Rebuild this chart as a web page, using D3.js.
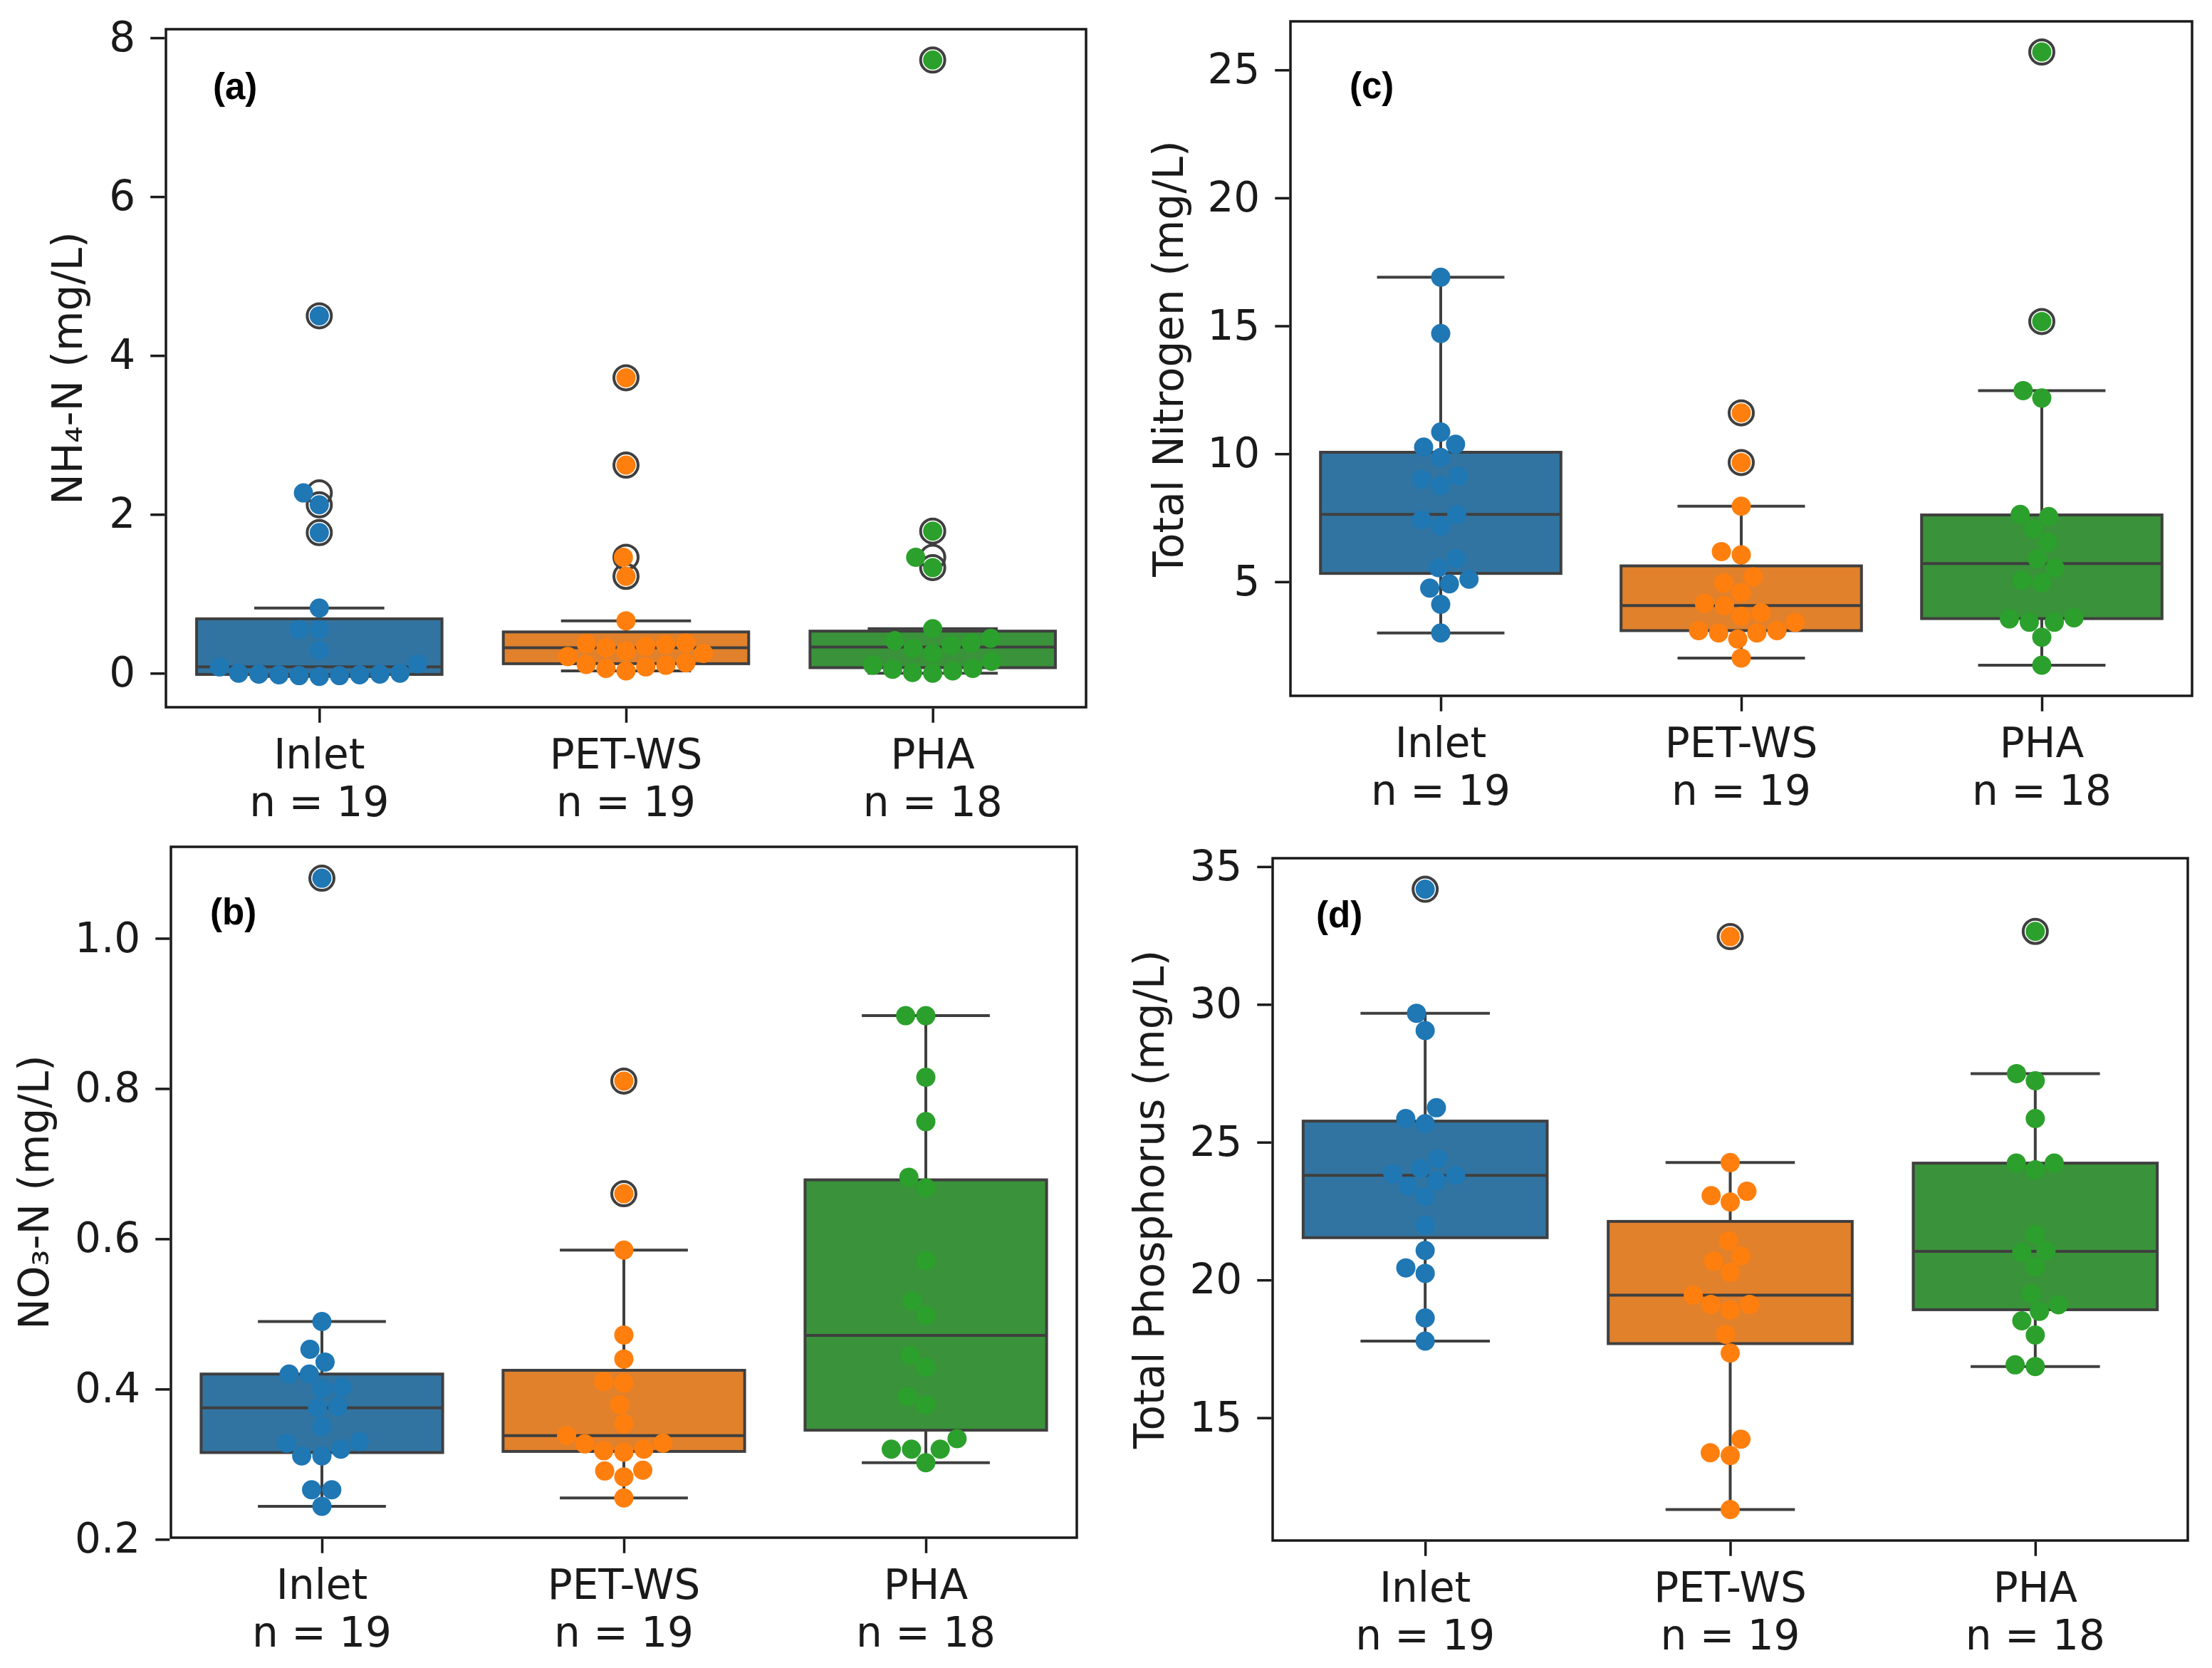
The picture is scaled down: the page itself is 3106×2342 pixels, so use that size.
<!DOCTYPE html>
<html>
<head>
<meta charset="utf-8">
<script src="https://cdn.jsdelivr.net/npm/d3@7"></script>
<style>
  html, body { margin: 0; padding: 0; background: #ffffff; }
  svg { display: block; }
</style>
</head>
<body>
<svg id="chart" width="3106" height="2342"></svg>
<script>
// ---------------- data ----------------
const categories = ["Inlet", "PET-WS", "PHA"];
const sampleSizes = [19, 19, 18];
const boxColors = ["#3274a1", "#e1812c", "#3a923a"];
const pointColors = ["#1f77b4", "#ff7f0e", "#2ca02c"];

// (a) NH4-N (mg/L)
const nh4Inlet = [4.50, 2.27, 2.12, 1.77, 0.82, 0.55, 0.55, 0.29, 0.12, 0.08, 0.00, 0.00, -0.01, -0.01, -0.02, -0.02, -0.03, -0.03, -0.04];
const nh4PetWs = [3.72, 2.62, 1.46, 1.22, 0.66, 0.38, 0.37, 0.36, 0.34, 0.32, 0.28, 0.25, 0.21, 0.13, 0.11, 0.10, 0.08, 0.06, 0.03];
const nh4Pha   = [7.72, 1.79, 1.46, 1.33, 0.56, 0.44, 0.41, 0.38, 0.35, 0.31, 0.25, 0.15, 0.10, 0.06, 0.05, 0.03, 0.01, 0.00];
const nh4Ticks = [0, 2, 4, 6, 8];

// (b) NO3-N (mg/L)
const no3Inlet = [1.08, 0.49, 0.453, 0.436, 0.42, 0.42, 0.402, 0.40, 0.377, 0.375, 0.35, 0.33, 0.328, 0.32, 0.311, 0.311, 0.266, 0.266, 0.244];
const no3PetWs = [0.81, 0.66, 0.585, 0.472, 0.44, 0.41, 0.408, 0.379, 0.354, 0.338, 0.328, 0.327, 0.32, 0.318, 0.316, 0.292, 0.291, 0.283, 0.255];
const no3Pha   = [0.897, 0.897, 0.815, 0.756, 0.682, 0.668, 0.571, 0.517, 0.498, 0.445, 0.429, 0.39, 0.379, 0.334, 0.32, 0.32, 0.32, 0.302];
const no3Ticks = [0.2, 0.4, 0.6, 0.8, 1.0];

// (c) Total Nitrogen (mg/L)
const tnInlet = [16.9, 14.7, 10.85, 10.37, 10.26, 9.86, 9.13, 9.0, 8.75, 7.63, 7.42, 7.17, 5.9, 5.55, 5.1, 4.92, 4.75, 4.12, 3.0];
const tnPetWs = [11.6, 9.66, 7.95, 6.18, 6.05, 5.19, 4.95, 4.58, 4.16, 4.07, 3.79, 3.65, 3.41, 3.09, 3.09, 3.0, 3.0, 2.76, 2.02];
const tnPha   = [25.7, 15.17, 12.47, 12.18, 7.63, 7.55, 7.06, 6.54, 5.9, 5.53, 5.06, 4.96, 3.59, 3.55, 3.42, 3.42, 2.83, 1.74];
const tnTicks = [5, 10, 15, 20, 25];

// (d) Total Phosphorus (mg/L)
const tpInlet = [34.18, 29.68, 29.05, 26.25, 25.86, 25.67, 24.4, 24.04, 23.85, 23.8, 23.6, 23.4, 23.02, 22.0, 21.07, 20.44, 20.24, 18.62, 17.78];
const tpPetWs = [32.46, 24.26, 23.22, 23.06, 22.83, 21.42, 20.87, 20.68, 20.28, 19.45, 19.11, 19.11, 18.91, 18.03, 17.35, 14.22, 13.73, 13.63, 11.67];
const tpPha   = [32.65, 27.49, 27.23, 25.86, 24.24, 24.24, 24.0, 21.65, 21.07, 21.0, 20.48, 19.5, 19.1, 18.86, 18.52, 18.0, 16.92, 16.86];
const tpTicks = [15, 20, 25, 30, 35];

// ---------------- layout ----------------
const panels = [
  { series: [nh4Inlet, nh4PetWs, nh4Pha], ticks: nh4Ticks, fmt: d3.format("d"),
    ylabel: "NH\u2084-N (mg/L)", tag: "(a)",
    frame: { L: 233, R: 1525, T: 41, B: 993 }, ylabelX: 95, tagOff: [66, 80] },
  { series: [tnInlet, tnPetWs, tnPha], ticks: tnTicks, fmt: d3.format("d"),
    ylabel: "Total Nitrogen (mg/L)", tag: "(c)",
    frame: { L: 1812, R: 3078, T: 30, B: 977 }, ylabelX: 1641, tagOff: [83, 90] },
  { series: [no3Inlet, no3PetWs, no3Pha], ticks: no3Ticks, fmt: d3.format(".1f"),
    ylabel: "NO\u2083-N (mg/L)", tag: "(b)",
    frame: { L: 240, R: 1512, T: 1189, B: 2159 }, ylabelX: 48, tagOff: [55, 91] },
  { series: [tpInlet, tpPetWs, tpPha], ticks: tpTicks, fmt: d3.format("d"),
    ylabel: "Total Phosphorus (mg/L)", tag: "(d)",
    frame: { L: 1787, R: 3072, T: 1205, B: 2163 }, ylabelX: 1614, tagOff: [61, 79] }
];

const FONT = "'DejaVu Sans', 'Liberation Sans', sans-serif";
const FS = 58;
const LINE = "#3f3f3f";
const INK = "#1a1a1a";
const DOT_R = 13.5;
const FLIER_R = 17;

const svg = d3.select("#chart");
svg.append("rect").attr("width", 3106).attr("height", 2342).attr("fill", "#ffffff");

function boxStats(values) {
  const s = values.slice().sort(d3.ascending);
  const q1 = d3.quantile(s, 0.25), med = d3.quantile(s, 0.5), q3 = d3.quantile(s, 0.75);
  const iqr = q3 - q1;
  const hiF = q3 + 1.5 * iqr, loF = q1 - 1.5 * iqr;
  const inside = s.filter(v => v >= loF && v <= hiF);
  return { q1, med, q3, wlo: d3.min(inside), whi: d3.max(inside),
           fliers: s.filter(v => v < loF || v > hiF) };
}

// seaborn-like beeswarm placement (pixel space)
function beeswarm(pys, cx, r) {
  const order = pys.map((_, i) => i).sort((a, b) => (pys[b] - pys[a]) || (a - b));
  const placed = [];
  const out = new Array(pys.length);
  for (const i of order) {
    const y = pys[i];
    const neighbors = placed.filter(p => Math.abs(p.y - y) < 2 * r);
    const cands = [cx];
    let leftFirst = true;
    for (const n of neighbors) {
      const dy = y - n.y;
      const dx = Math.sqrt(Math.max(4 * r * r - dy * dy, 0)) * 1.05;
      if (leftFirst) cands.push(n.x - dx, n.x + dx);
      else cands.push(n.x + dx, n.x - dx);
      leftFirst = !leftFirst;
    }
    const sorted = cands.map((x, k) => ({ x, k }))
      .sort((a, b) => (Math.abs(a.x - cx) - Math.abs(b.x - cx)) || (a.k - b.k));
    const chosen = sorted.find(c => neighbors.every(n =>
      (n.x - c.x) ** 2 + (n.y - y) ** 2 >= 4 * r * r - 1e-6)) || sorted[0];
    placed.push({ x: chosen.x, y });
    out[i] = chosen.x;
  }
  return out;
}

panels.forEach(p => {
  const { L, R, T, B } = p.frame;
  const all = p.series.flat();
  const lo = d3.min(all), hi = d3.max(all), pad = 0.05 * (hi - lo);
  const y = d3.scaleLinear().domain([lo - pad, hi + pad]).range([B, T]);
  const x = d3.scalePoint().domain(categories).range([L, R]).padding(0.5);
  const step = x.step();
  const boxW = 0.8 * step;
  const capW = 0.53 * boxW;

  const g = svg.append("g");

  // boxes
  p.series.forEach((vals, i) => {
    const cx = x(categories[i]);
    const st = boxStats(vals);
    const bg = g.append("g");
    bg.append("line").attr("x1", cx).attr("x2", cx).attr("y1", y(st.q3)).attr("y2", y(st.whi))
      .attr("stroke", LINE).attr("stroke-width", 4);
    bg.append("line").attr("x1", cx).attr("x2", cx).attr("y1", y(st.q1)).attr("y2", y(st.wlo))
      .attr("stroke", LINE).attr("stroke-width", 4);
    [st.whi, st.wlo].forEach(v => {
      bg.append("line").attr("x1", cx - capW / 2).attr("x2", cx + capW / 2)
        .attr("y1", y(v)).attr("y2", y(v)).attr("stroke", LINE).attr("stroke-width", 4);
    });
    bg.append("rect").attr("x", cx - boxW / 2).attr("y", y(st.q3))
      .attr("width", boxW).attr("height", Math.max(0, y(st.q1) - y(st.q3)))
      .attr("fill", boxColors[i]).attr("stroke", LINE).attr("stroke-width", 4);
    bg.append("line").attr("x1", cx - boxW / 2).attr("x2", cx + boxW / 2)
      .attr("y1", y(st.med)).attr("y2", y(st.med)).attr("stroke", LINE).attr("stroke-width", 4);
    bg.selectAll("circle.flier").data(st.fliers).join("circle").attr("class", "flier")
      .attr("cx", cx).attr("cy", d => y(d)).attr("r", FLIER_R)
      .attr("fill", "none").attr("stroke", LINE).attr("stroke-width", 4);
  });

  // swarm points
  p.series.forEach((vals, i) => {
    const cx = x(categories[i]);
    const pys = vals.map(v => y(v));
    const xs = beeswarm(pys, cx, DOT_R);
    g.append("g").selectAll("circle").data(vals).join("circle")
      .attr("cx", (d, k) => xs[k]).attr("cy", d => y(d)).attr("r", DOT_R)
      .attr("fill", pointColors[i]);
  });

  // frame
  g.append("rect").attr("x", L).attr("y", T).attr("width", R - L).attr("height", B - T)
    .attr("fill", "none").attr("stroke", INK).attr("stroke-width", 3.5);

  // y axis
  const ya = g.append("g").attr("transform", `translate(${L - 1.75},0)`)
    .call(d3.axisLeft(y).tickValues(p.ticks).tickFormat(p.fmt).tickSize(20).tickPadding(21));
  ya.select(".domain").remove();
  ya.selectAll(".tick line").attr("stroke", INK).attr("stroke-width", 3.5);
  ya.selectAll(".tick text").attr("font-family", FONT).attr("font-size", FS).attr("fill", INK);
  ya.attr("font-family", null).attr("font-size", null);

  // x axis
  const xa = g.append("g").attr("transform", `translate(0,${B + 1.75})`)
    .call(d3.axisBottom(x).tickSize(20).tickFormat(""));
  xa.select(".domain").remove();
  xa.selectAll(".tick line").attr("stroke", INK).attr("stroke-width", 3.5);
  xa.selectAll(".tick text").remove();
  categories.forEach((c, i) => {
    const t = g.append("text").attr("font-family", FONT).attr("font-size", FS)
      .attr("fill", INK).attr("text-anchor", "middle");
    t.append("tspan").attr("x", x(c)).attr("y", B + 86).text(c);
    t.append("tspan").attr("x", x(c)).attr("y", B + 153).text(`n = ${sampleSizes[i]}`);
  });

  // y label
  g.append("text").attr("transform", `translate(${p.ylabelX},${(T + B) / 2}) rotate(-90)`)
    .attr("text-anchor", "middle").attr("dominant-baseline", "central")
    .attr("font-family", FONT).attr("font-size", FS).attr("fill", INK).text(p.ylabel);

  // panel tag
  g.append("text").attr("x", L + p.tagOff[0]).attr("y", T + p.tagOff[1])
    .attr("dominant-baseline", "central")
    .attr("font-family", "'Liberation Sans', Arial, sans-serif").attr("font-weight", "bold")
    .attr("font-size", 51).attr("fill", "#000").text(p.tag);
});
</script>
</body>
</html>
